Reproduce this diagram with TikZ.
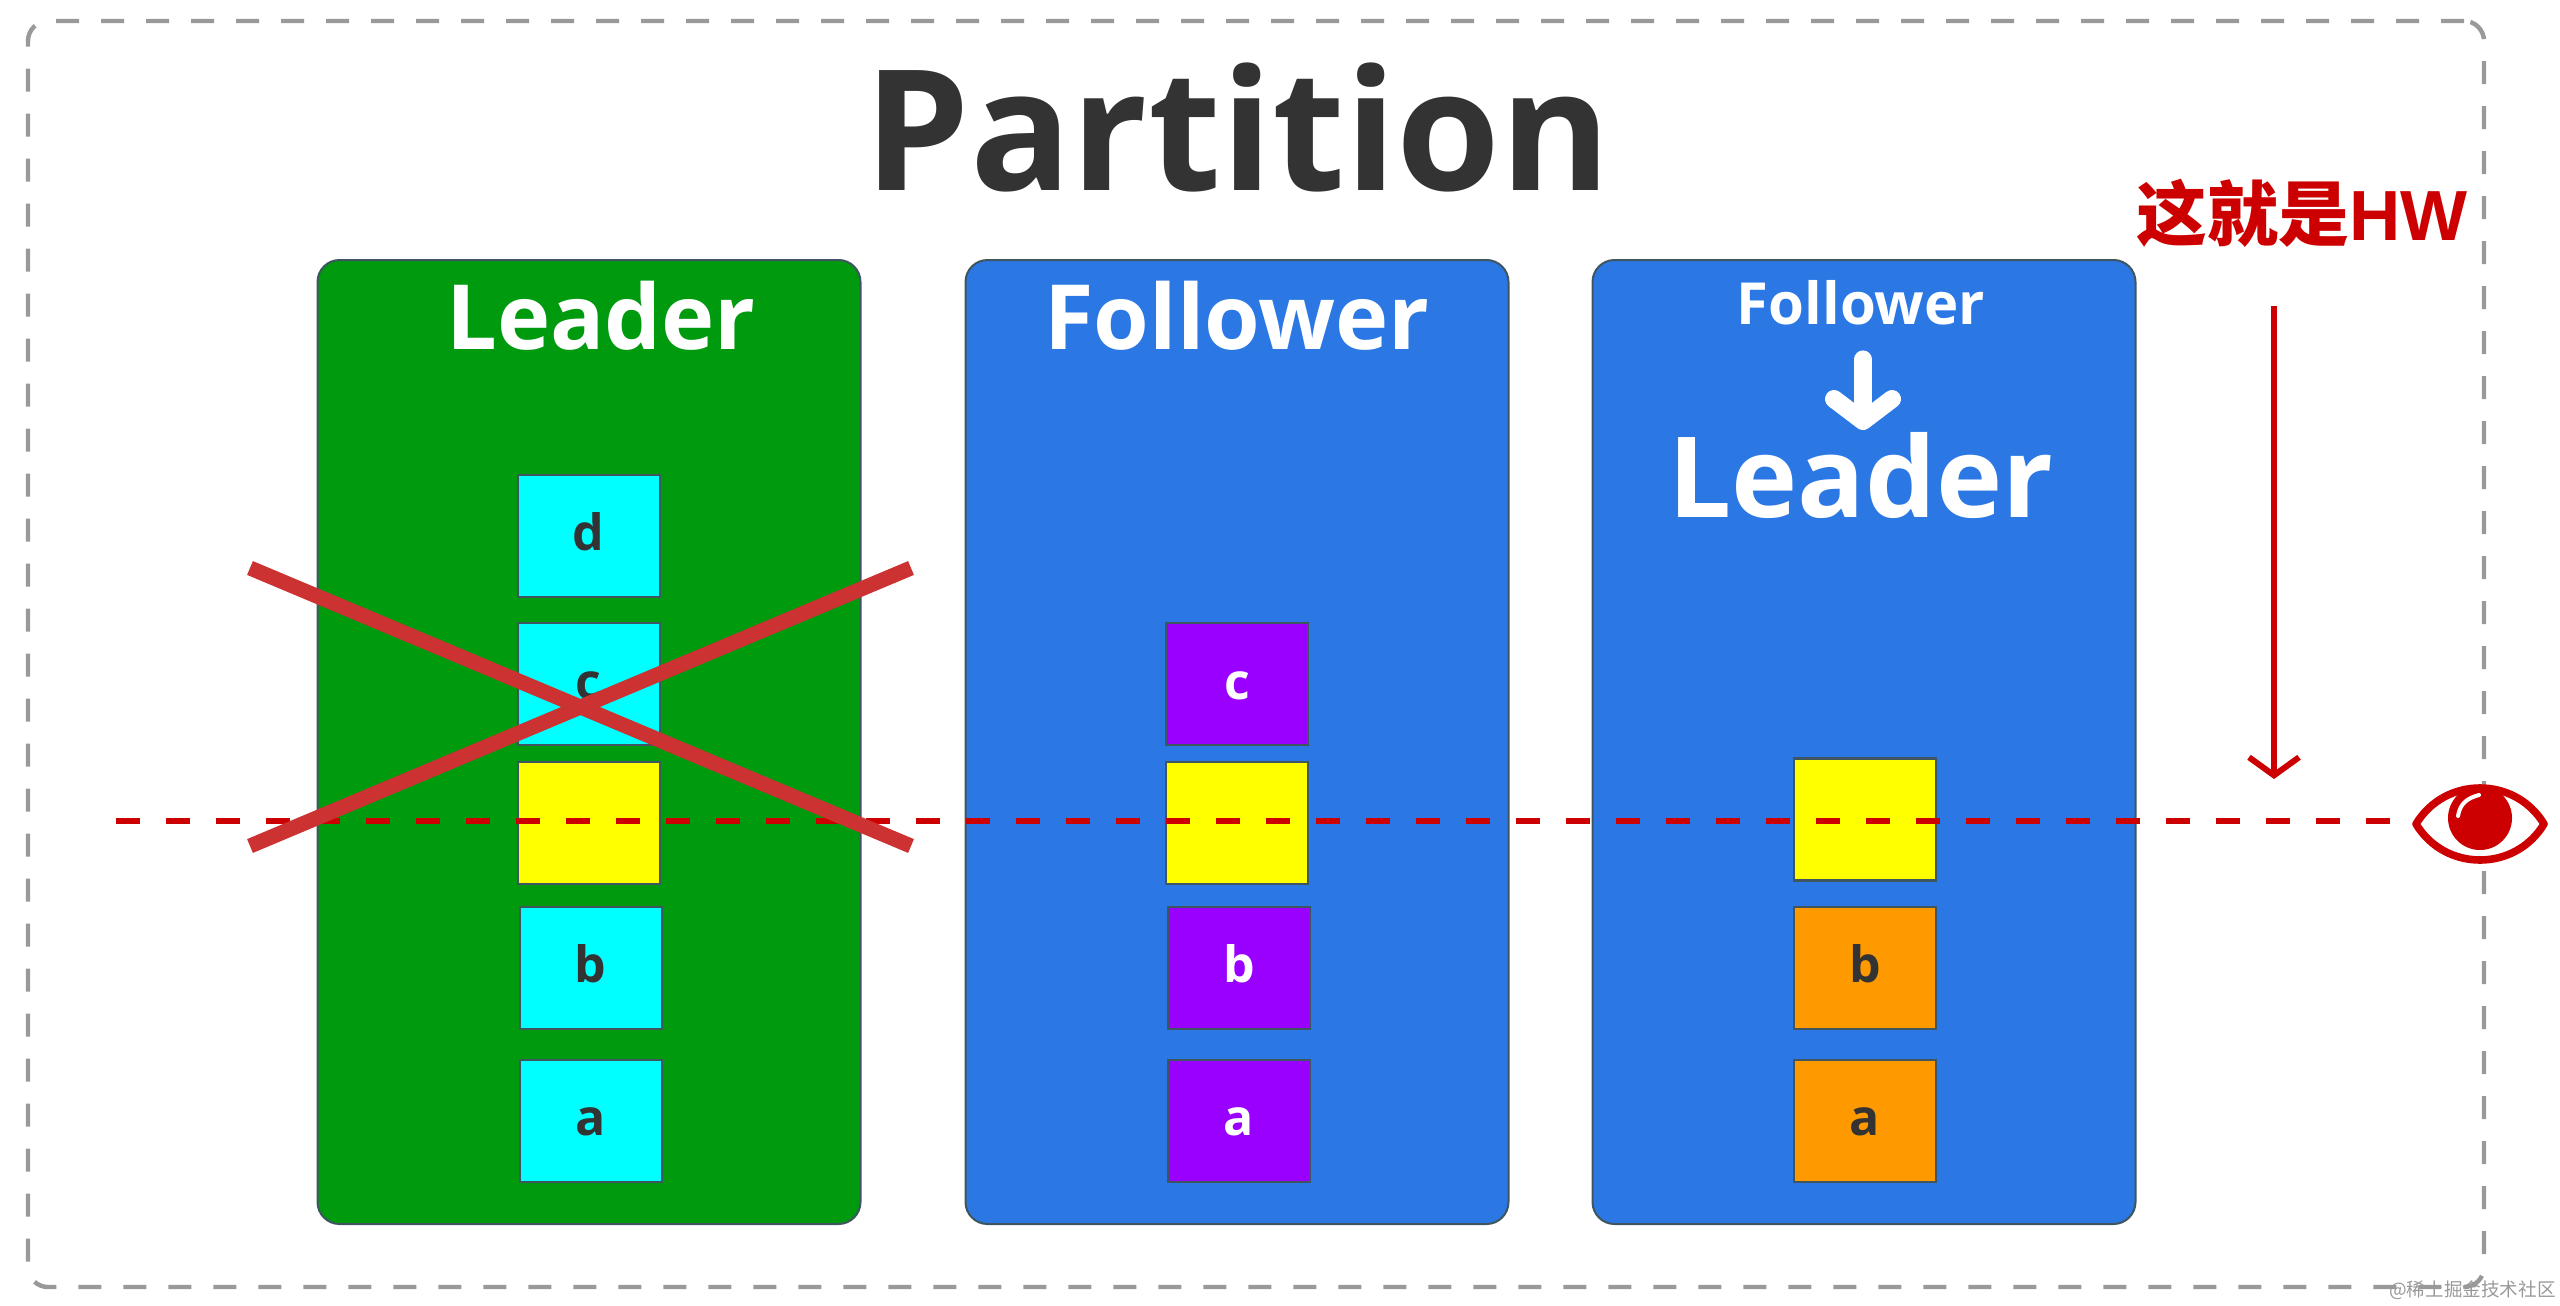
\documentclass[tikz,border=0pt]{standalone}
\usepackage{fontspec}
\setmainfont{Open Sans}
\newfontfamily\cjkfont{Noto Sans CJK SC}
\newfontfamily\hwfont{Liberation Sans}
\usetikzlibrary{positioning,arrows.meta}
\definecolor{leadgreen}{HTML}{009A0E}
\definecolor{follblue}{HTML}{2B78E4}
\definecolor{cellcyan}{HTML}{00FFFF}
\definecolor{cellyellow}{HTML}{FFFF00}
\definecolor{cellpurple}{HTML}{9900FF}
\definecolor{cellorange}{HTML}{FF9900}
\definecolor{hwred}{HTML}{CC0000}
\definecolor{crossred}{HTML}{CC3232}
\definecolor{inkgrey}{HTML}{333333}
\definecolor{edgegrey}{HTML}{3F5560}
\definecolor{framegrey}{HTML}{999999}

\begin{document}
\begin{tikzpicture}[x=0.5pt, y=-0.5pt, node distance=10pt,
    frame/.style = {draw=framegrey, line width=2.2pt, dash pattern=on 11.5pt off 11pt, rounded corners=10pt, minimum width=1228pt, minimum height=633pt},
    panel/.style = {draw=edgegrey, line width=1pt, rounded corners=11pt, minimum width=271.5pt, minimum height=482pt},
    cell/.style = {draw=edgegrey, line width=1.1pt, minimum width=71pt, minimum height=61pt, inner sep=0pt, text height=15pt, text depth=0pt, font=\fontsize{25}{30}\selectfont\bfseries},
    head/.style = {text=white, inner sep=0pt, font=\fontsize{45}{52}\selectfont\bfseries},
    hwline/.style = {draw=hwred, line width=3pt}]
\useasboundingbox (0,0) rectangle (2560,1306);

\node (frame) [frame] at (1256,654) {};
\node (title) [anchor=base, text=inkgrey, font=\fontsize{84}{100}\selectfont\bfseries] at (1238,190) {Partition};

% panels
\node (lead) [panel, fill=leadgreen] at (589,742) {};
\node (foll) [panel, fill=follblue, right=51.5pt of lead] {};
\node (next) [panel, fill=follblue, right=41pt of foll] {};

\node (leadhead) [head, below=11pt of lead.north, xshift=6pt] {Leader};
\node (follhead) [head, below=11pt of foll.north] {Follower};
\node (nexthead) [head, font=\fontsize{29}{34}\selectfont\bfseries, below=10.5pt of next.north, xshift=-1.5pt] {Follower};
\node (nextlead) [head, font=\fontsize{56}{64}\selectfont\bfseries, below=86.5pt of next.north, xshift=-1.5pt] {Leader};
\draw[white, line width=9pt, line cap=round, -{Straight Barb[round, length=11pt, width=29pt]}, shorten >=1pt] (nexthead.south) ++(1pt,-17pt) coordinate (nexta) (nexta) -- (nextlead.north -| nexta);

% leader log
\node (la) [cell, fill=cellcyan, text=inkgrey, above=21pt of lead.south, xshift=0.8pt] {a};
\node (lb) [cell, fill=cellcyan, text=inkgrey, above=14.5pt of la] {b};
\node (ly) [cell, fill=cellyellow, above=10.2pt of lb, xshift=-1pt] {};
\node (lc) [cell, fill=cellcyan, text=inkgrey, above=7.4pt of ly] {c};
\node (ld) [cell, fill=cellcyan, text=inkgrey, above=12pt of lc] {d};

% follower log
\node (fa) [cell, fill=cellpurple, text=white, above=21pt of foll.south, xshift=1pt] {a};
\node (fb) [cell, fill=cellpurple, text=white, above=14.5pt of fa] {b};
\node (fy) [cell, fill=cellyellow, above=10.2pt of fb, xshift=-1pt] {};
\node (fc) [cell, fill=cellpurple, text=white, above=7.4pt of fy] {c};

% new leader log
\node (na) [cell, fill=cellorange, text=inkgrey, above=21pt of next.south, xshift=0.5pt] {a};
\node (nb) [cell, fill=cellorange, text=inkgrey, above=14.5pt of na] {b};
\node (ny) [cell, fill=cellyellow, above=12pt of nb] {};

% high watermark
\node (hw) [anchor=base, text=hwred, font=\fontsize{35.5}{40}\selectfont] at (2302,240) {\cjkfont\bfseries 这就是\hwfont\bfseries HW};
\coordinate (hwtop) at (2274,306);
\coordinate (hwend) at (2274,779);
\draw[hwline, -{Straight Barb[length=9pt, width=25pt]}] (hwtop) -- (hwend);

\coordinate (wstart) at (116,821);
\coordinate (wend) at (2396,821);
\draw[hwline, dash pattern=on 12pt off 13pt] (wstart) -- (wend);

% crossed out
\coordinate (xa) at (250,568);
\coordinate (xb) at (911,846);
\coordinate (xc) at (250,846);
\coordinate (xd) at (911,568);
\draw[crossred, line width=7.5pt] (xa) -- (xb);
\draw[crossred, line width=7.5pt] (xc) -- (xd);

% eye
\coordinate (eye) at (2480,824);
\draw[hwred, fill=white, line width=3.8pt, line join=round] (2416,824) .. controls (2445,776) and (2515,776) .. (2544,824) .. controls (2515,872) and (2445,872) .. (2416,824) -- cycle;
\fill[hwred] (2480,818) circle (16pt);
\draw[white, line width=2pt, line cap=round] (2458,816) .. controls (2460,803) and (2468,798) .. (2479,795);

\node (mark) [anchor=east, text=framegrey, inner sep=0pt, font=\fontsize{9.3}{11}\selectfont] at (2556,1290) {\cjkfont @稀土掘金技术社区};
\end{tikzpicture}
\end{document}
